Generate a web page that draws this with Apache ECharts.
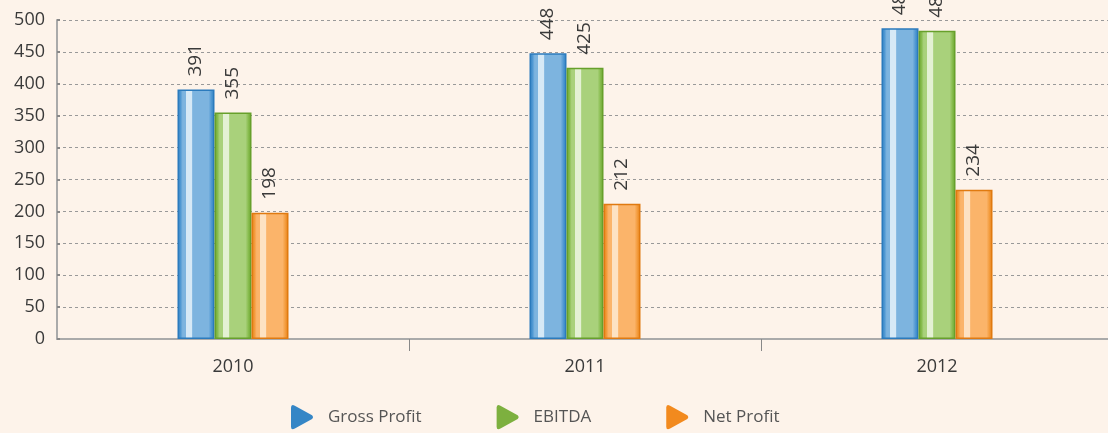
<!DOCTYPE html>
<html>
<head>
<meta charset="utf-8">
<title>Profit chart</title>
<script src="https://cdn.jsdelivr.net/npm/echarts@6/dist/echarts.min.js"></script>
<style>
  html, body { margin: 0; padding: 0; background: #fdf3ea; overflow: hidden; }
</style>
</head>
<body>
<div id="main" style="width: 1108px; height: 433px;"></div>
<script type="text/javascript">

var years = ['2010', '2011', '2012'];
var grossProfit = [391, 448, 487];
var ebitda = [355, 425, 483];
var netProfit = [198, 212, 234];
var yTicks = [0, 50, 100, 150, 200, 250, 300, 350, 400, 450, 500];
var legendNames = ['Gross Profit', 'EBITDA', 'Net Profit'];
var legendColors = ['#3586c6', '#7db03f', '#f28a1e'];

var font = '"Open Sans", "Noto Sans", sans-serif';

// horizontal "glass" fill: dark edge, inner ring, light body, pale stripe
function glossy(edge, ring, light, hi) {
  return new echarts.graphic.LinearGradient(0, 0, 1, 0, [
    { offset: 0, color: edge },
    { offset: 0.08, color: ring },
    { offset: 0.14, color: light },
    { offset: 0.22, color: light },
    { offset: 0.24, color: hi },
    { offset: 0.38, color: hi },
    { offset: 0.41, color: light },
    { offset: 0.84, color: light },
    { offset: 0.92, color: ring },
    { offset: 1, color: edge }
  ]);
}

function makeSeries(name, values, edge, ring, light, hi) {
  return {
    name: name,
    type: 'bar',
    data: values,
    barWidth: 37,
    barGap: '0%',
    itemStyle: {
      color: glossy(edge, ring, light, hi),
      borderColor: edge,
      borderWidth: 1.5
    },
    label: {
      show: true,
      position: 'top',
      rotate: 90,
      align: 'left',
      verticalAlign: 'middle',
      distance: 13,
      color: '#3a3a3a',
      fontSize: 19,
      fontFamily: font
    }
  };
}

var chartDom = document.getElementById('main');
var myChart = echarts.init(chartDom, null, { renderer: 'canvas' });
var option;

option = {
  backgroundColor: '#fdf3ea',
  animation: false,
  grid: { left: 57, width: 1056, top: 20, bottom: 94, containLabel: false, outerBoundsMode: 'none' },
  legend: {
    left: 291,
    top: 405,
    padding: 0,
    itemWidth: 22,
    itemHeight: 27,
    itemGap: 75,
    icon: 'path://M0,2 Q0,0 2,1 L11,6 Q12,7 11,8 L2,13 Q0,14 0,12 Z',
    textStyle: { color: '#555', fontSize: 17, fontFamily: font, padding: [0, 0, 0, 10] },
    data: legendNames.map(function (n, i) {
      return { name: n, itemStyle: { color: legendColors[i], borderWidth: 0 } };
    })
  },
  xAxis: {
    type: 'category',
    data: years,
    axisLine: { lineStyle: { color: '#aaa', width: 2 } },
    axisTick: {
      show: true,
      length: 12,
      interval: function (index) { return index > 0; },
      lineStyle: { color: '#888', width: 1 }
    },
    axisLabel: { color: '#3a3a3a', fontSize: 18, fontFamily: font, margin: 19 }
  },
  yAxis: {
    type: 'value',
    min: yTicks[0],
    max: yTicks[yTicks.length - 1],
    interval: yTicks[1] - yTicks[0],
    axisLine: { show: true, lineStyle: { color: '#aaa', width: 2 } },
    axisTick: { show: true, inside: true, length: 3, lineStyle: { color: '#888', width: 2 } },
    axisLabel: { color: '#3a3a3a', fontSize: 18, fontFamily: font, margin: 12 },
    splitLine: { lineStyle: { color: '#999', type: [3, 3], width: 1 } }
  },
  series: [
    makeSeries('Gross Profit', grossProfit, '#2b7bbd', '#4e97d2', '#7db4df', '#d6e9f6'),
    makeSeries('EBITDA', ebitda, '#67a02b', '#86bb4c', '#a9d17b', '#e4f1d4'),
    makeSeries('Net Profit', netProfit, '#e07a10', '#f39a3a', '#fbb46a', '#fde2c3')
  ]
};

option && myChart.setOption(option);
</script>
</body>
</html>
